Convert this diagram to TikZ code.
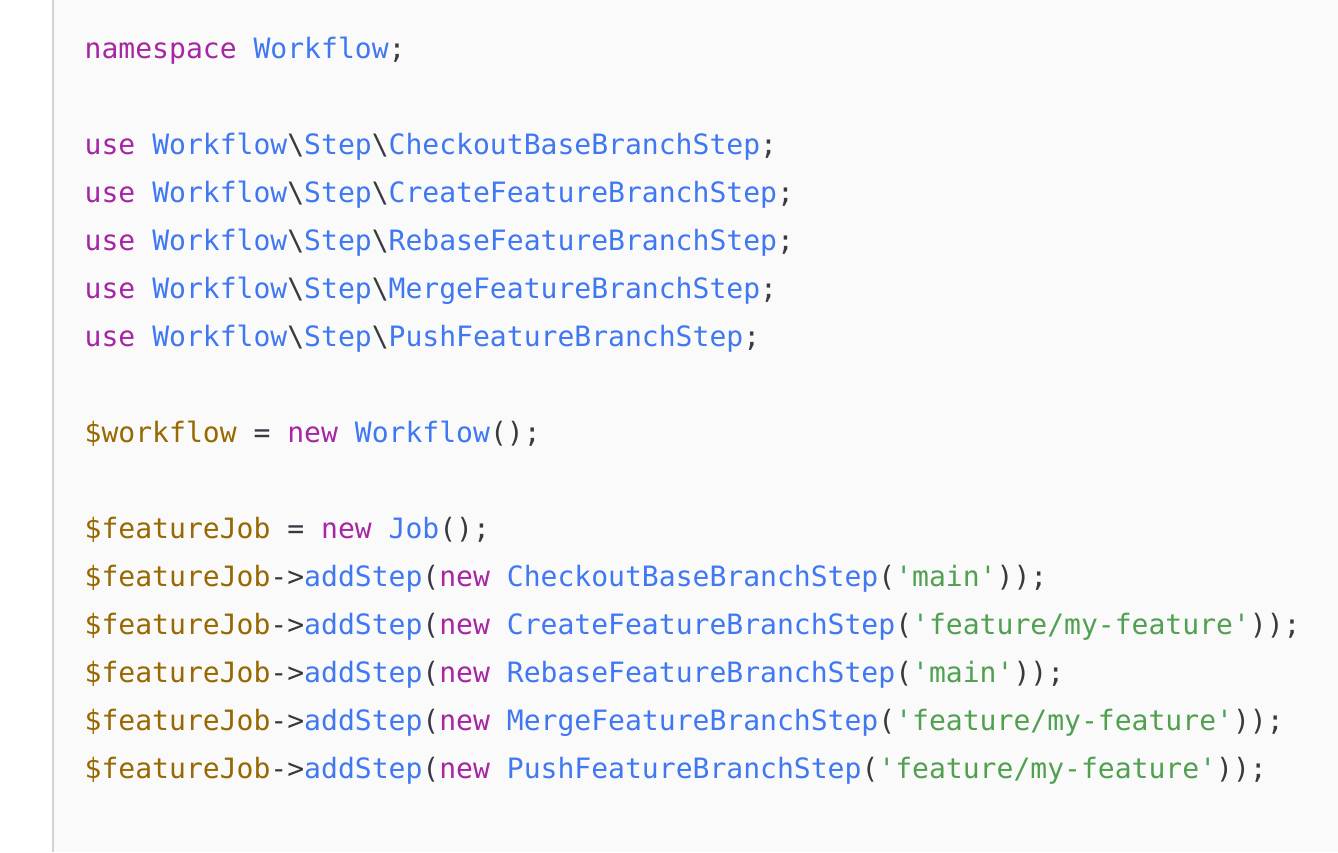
\documentclass[tikz,border=0pt]{standalone}
\usepackage{fontspec}
\newfontfamily\codefont{DejaVu Sans Mono}
\definecolor{kwcol}{HTML}{A626A4}
\definecolor{tycol}{HTML}{4078F2}
\definecolor{strcol}{HTML}{50A14F}
\definecolor{varcol}{HTML}{986801}
\definecolor{pncol}{HTML}{383A42}
\definecolor{bgcol}{HTML}{FAFAFA}
\definecolor{rulecol}{HTML}{D2D2D2}
\newcommand\ckw[1]{\textcolor{kwcol}{#1}}
\newcommand\cty[1]{\textcolor{tycol}{#1}}
\newcommand\cstr[1]{\textcolor{strcol}{#1}}
\newcommand\cvar[1]{\textcolor{varcol}{#1}}
\newcommand\bsl{\textbackslash}
\tikzset{codeline/.style={anchor=base west, inner sep=0pt, text=pncol,
  font=\codefont\fontsize{28.05}{33}\selectfont}}
\begin{document}
\begin{tikzpicture}[x=1pt,y=-1pt]
\useasboundingbox (0,0) rectangle (1338,852);
\fill[white] (0,0) rectangle (1338,852);
\fill[bgcol] (53,0) rectangle (1338,852);
\draw[rulecol, line width=2pt] (53,0) -- (53,852);
\node[codeline] (l0) at (84.5,58.5) {\ckw{namespace} \cty{Workflow};};
\node[codeline] (l2) at (84.5,154.5) {\ckw{use} \cty{Workflow}\bsl\cty{Step}\bsl\cty{CheckoutBaseBranchStep};};
\node[codeline] (l3) at (84.5,202.5) {\ckw{use} \cty{Workflow}\bsl\cty{Step}\bsl\cty{CreateFeatureBranchStep};};
\node[codeline] (l4) at (84.5,250.5) {\ckw{use} \cty{Workflow}\bsl\cty{Step}\bsl\cty{RebaseFeatureBranchStep};};
\node[codeline] (l5) at (84.5,298.5) {\ckw{use} \cty{Workflow}\bsl\cty{Step}\bsl\cty{MergeFeatureBranchStep};};
\node[codeline] (l6) at (84.5,346.5) {\ckw{use} \cty{Workflow}\bsl\cty{Step}\bsl\cty{PushFeatureBranchStep};};
\node[codeline] (l8) at (84.5,442.5) {\cvar{\$workflow} = \ckw{new} \cty{Workflow}();};
\node[codeline] (l10) at (84.5,538.5) {\cvar{\$featureJob} = \ckw{new} \cty{Job}();};
\node[codeline] (l11) at (84.5,586.5) {\cvar{\$featureJob}->\cty{addStep}(\ckw{new} \cty{CheckoutBaseBranchStep}(\cstr{'main'}));};
\node[codeline] (l12) at (84.5,634.5) {\cvar{\$featureJob}->\cty{addStep}(\ckw{new} \cty{CreateFeatureBranchStep}(\cstr{'feature/my-feature'}));};
\node[codeline] (l13) at (84.5,682.5) {\cvar{\$featureJob}->\cty{addStep}(\ckw{new} \cty{RebaseFeatureBranchStep}(\cstr{'main'}));};
\node[codeline] (l14) at (84.5,730.5) {\cvar{\$featureJob}->\cty{addStep}(\ckw{new} \cty{MergeFeatureBranchStep}(\cstr{'feature/my-feature'}));};
\node[codeline] (l15) at (84.5,778.5) {\cvar{\$featureJob}->\cty{addStep}(\ckw{new} \cty{PushFeatureBranchStep}(\cstr{'feature/my-feature'}));};
\end{tikzpicture}
\end{document}
